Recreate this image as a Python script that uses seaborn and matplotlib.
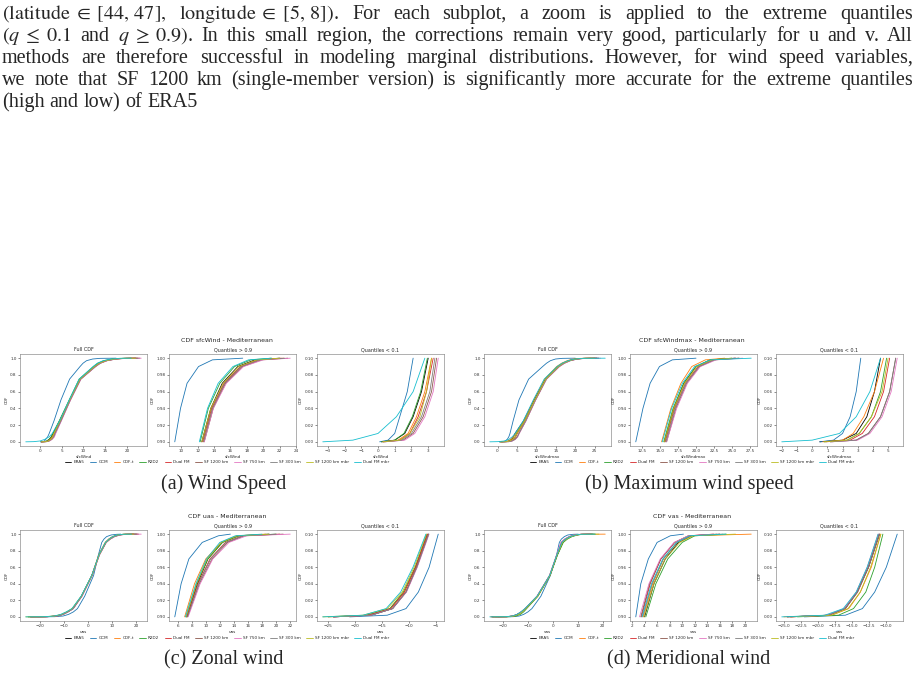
import pandas as pd
import seaborn as sns
import matplotlib.pyplot as plt
from matplotlib.lines import Line2D
from matplotlib.ticker import MultipleLocator

# methods compared in every panel
methods = ["ERA5", "GCM", "CDF-t", "R2D2", "Dual FM", "SF 1200 km", "SF 750 km",
           "SF 300 km", "SF 1200 km mbr", "Dual FM mbr"]
colors = ["black", "#1f77b4", "#ff7f0e", "#2ca02c", "#d62728", "#8c564b",
          "#e377c2", "#7f7f7f", "#bcbd22", "#17becf"]

q_levels = [0.0, 0.002, 0.01, 0.03, 0.06, 0.1, 0.25, 0.5, 0.75, 0.9, 0.94, 0.97, 0.99, 0.998, 1.0]

# values (one row per method, same order as `methods`)
sfcwind = [
    [0.2, 1.0, 1.6, 2.1, 2.6, 3.0, 4.5, 6.8, 9.2, 12.5, 13.6, 15.0, 16.9, 19.0, 22.0],
    [0.1, 0.6, 1.0, 1.3, 1.75, 2.1, 3.2, 4.8, 6.8, 9.2, 9.9, 10.7, 12.1, 13.8, 17.5],
    [0.3, 1.2, 1.8, 2.3, 2.8, 3.2, 4.6, 6.9, 9.3, 12.7, 13.8, 15.3, 17.3, 19.5, 22.5],
    [0.2, 1.0, 1.55, 2.05, 2.55, 2.95, 4.4, 6.7, 9.0, 12.3, 13.3, 14.7, 16.5, 18.5, 21.0],
    [0.3, 1.3, 1.9, 2.4, 2.9, 3.3, 4.7, 6.9, 9.3, 12.6, 13.7, 15.2, 17.2, 19.3, 22.2],
    [0.4, 1.5, 2.1, 2.7, 3.2, 3.5, 4.8, 7.0, 9.4, 12.8, 13.9, 15.4, 17.5, 19.8, 23.0],
    [0.4, 1.6, 2.2, 2.8, 3.3, 3.6, 4.9, 7.0, 9.4, 12.8, 13.9, 15.5, 17.6, 20.0, 23.3],
    [0.3, 1.4, 2.0, 2.6, 3.1, 3.4, 4.8, 6.9, 9.3, 12.7, 13.8, 15.3, 17.3, 19.5, 22.6],
    [0.3, 1.3, 1.9, 2.5, 2.9, 3.2, 4.6, 6.8, 9.2, 12.5, 13.6, 15.1, 17.0, 19.2, 22.0],
    [-3.3, -1.5, 0.0, 1.1, 2.1, 2.8, 4.5, 6.7, 9.0, 12.2, 13.2, 14.5, 16.3, 18.2, 21.0],
]
sfcwindmax = [
    [0.5, 2.0, 2.9, 3.6, 4.1, 4.5, 6.7, 9.4, 12.3, 15.6, 16.9, 18.3, 20.0, 22.0, 25.5],
    [0.5, 1.4, 2.0, 2.5, 2.9, 3.2, 4.0, 5.5, 8.0, 11.6, 12.6, 13.6, 14.9, 16.7, 20.0],
    [0.7, 2.0, 2.7, 3.4, 4.1, 4.7, 6.8, 9.3, 12.1, 15.2, 16.5, 17.9, 19.4, 21.3, 24.0],
    [0.8, 2.3, 3.1, 3.9, 4.5, 4.9, 7.0, 9.6, 12.4, 15.5, 16.8, 18.3, 20.0, 22.0, 25.0],
    [0.9, 2.5, 3.3, 4.1, 4.7, 5.1, 7.1, 9.7, 12.5, 15.7, 17.0, 18.5, 20.3, 22.3, 25.5],
    [1.2, 2.9, 3.7, 4.5, 5.1, 5.5, 7.3, 9.8, 12.6, 15.9, 17.2, 18.7, 20.5, 22.6, 26.0],
    [1.3, 3.0, 3.8, 4.6, 5.2, 5.6, 7.3, 9.8, 12.6, 15.9, 17.3, 18.8, 20.6, 22.8, 26.5],
    [1.2, 2.9, 3.7, 4.5, 5.1, 5.5, 7.2, 9.7, 12.5, 15.8, 17.1, 18.6, 20.4, 22.5, 26.0],
    [0.8, 2.3, 3.1, 3.9, 4.6, 5.0, 7.0, 9.6, 12.4, 15.6, 16.9, 18.4, 20.1, 22.2, 25.0],
    [-2.0, 0.0, 1.8, 2.9, 3.8, 4.5, 6.6, 9.2, 12.0, 15.3, 16.6, 18.1, 19.8, 22.0, 27.7],
]
uas = [
    [-24, -17, -13, -10.5, -8.5, -6.3, -2.8, 1.5, 4.5, 7.3, 8.8, 10.3, 12.3, 14.5, 19.0],
    [-21, -14, -10.5, -8.2, -6.2, -4.5, -1.5, 2.2, 4.2, 5.6, 6.5, 7.6, 9.5, 11.8, 13.5],
    [-25, -17.5, -13.5, -10.8, -8.7, -6.5, -2.8, 1.4, 4.3, 7.0, 8.4, 10.0, 12.2, 14.5, 18.5],
    [-25, -18, -13.5, -11, -8.8, -6.6, -2.9, 1.5, 4.5, 7.2, 8.7, 10.3, 12.4, 14.8, 20.0],
    [-24, -17.5, -13.3, -10.8, -8.7, -6.5, -2.8, 1.5, 4.5, 7.3, 8.9, 10.6, 12.8, 15.2, 20.5],
    [-24, -17, -13, -10.5, -8.5, -6.3, -2.7, 1.6, 4.6, 7.4, 9.1, 10.9, 13.1, 15.5, 21.0],
    [-24, -17, -13, -10.4, -8.4, -6.2, -2.6, 1.6, 4.7, 7.5, 9.2, 11.0, 13.3, 15.8, 22.0],
    [-24, -17, -13, -10.5, -8.5, -6.3, -2.7, 1.5, 4.6, 7.4, 9.0, 10.7, 12.9, 15.3, 20.0],
    [-26, -18.5, -14, -11.2, -9.0, -6.7, -2.9, 1.5, 4.5, 7.2, 8.7, 10.2, 12.2, 14.4, 19.0],
    [-26, -18.5, -14.2, -11.5, -9.2, -6.8, -3.0, 1.4, 4.4, 7.1, 8.6, 10.1, 12.0, 14.2, 18.0],
]
vas = [
    [-24.5, -18.5, -16.0, -14.3, -12.6, -11.0, -6.2, -1.2, 1.8, 4.0, 5.5, 7.3, 9.4, 11.5, 16.0],
    [-22, -16, -13.5, -11.7, -10.0, -8.4, -4.8, -1.0, 1.5, 2.6, 3.4, 4.6, 6.0, 8.1, 10.2],
    [-25, -18, -15.5, -13.8, -12.2, -10.8, -6.0, -1.2, 1.7, 3.8, 5.3, 7.0, 9.2, 11.5, 21.0],
    [-23, -17, -14.8, -13.0, -11.7, -10.5, -6.0, -1.1, 1.9, 4.2, 5.8, 7.7, 10.0, 12.0, 17.0],
    [-24, -18.5, -16.0, -14.2, -12.6, -11.0, -6.3, -1.3, 1.6, 3.5, 4.9, 6.6, 8.8, 11.0, 15.0],
    [-24, -18.5, -16.1, -14.3, -12.7, -11.1, -6.3, -1.3, 1.6, 3.4, 4.8, 6.6, 8.8, 11.0, 15.5],
    [-24, -18.7, -16.2, -14.4, -12.8, -11.2, -6.4, -1.4, 1.5, 3.2, 4.7, 6.5, 8.7, 11.0, 15.0],
    [-24.5, -18.5, -16.0, -14.2, -12.6, -11.0, -6.2, -1.2, 1.7, 3.7, 5.2, 7.0, 9.2, 11.3, 16.5],
    [-24, -18, -15.6, -13.8, -12.3, -10.8, -6.1, -1.2, 1.7, 3.9, 5.5, 7.3, 9.6, 11.8, 18.5],
    [-25.3, -19, -16.3, -14.4, -12.8, -11.2, -6.3, -1.3, 1.6, 3.6, 5.1, 6.9, 9.1, 11.2, 17.0],
]

variables = ["sfcWind", "sfcWindmax", "uas", "vas"]
var_values = [sfcwind, sfcwindmax, uas, vas]
captions = ["(a) Wind Speed", "(b) Maximum wind speed", "(c) Zonal wind", "(d) Meridional wind"]
panel_titles = ["Full CDF", "Quantiles > 0.9", "Quantiles < 0.1"]
# x tick spacing for [full, upper, lower] panels of each variable
x_steps = [[5, 2, 1], [5, 2.5, 1], [10, 2, 5], [10, 2, 2.5]]
y_steps = [0.2, 0.02, 0.02]

paragraph = [
    (["$(\\mathrm{latitude}\\;\\in\\;[44,\\,47],$", "$\\mathrm{longitude}\\;\\in\\;[5,\\,8])$.", "For",
      "each", "subplot,", "a", "zoom", "is", "applied", "to", "the", "extreme", "quantiles"], True),
    (["$(q\\;\\leq\\;0.1$", "and", "$q\\;\\geq\\;0.9)$.", "In", "this", "small", "region,", "the",
      "corrections", "remain", "very", "good,", "particularly", "for", "u", "and", "v.", "All"], True),
    ("methods are therefore successful in modeling marginal distributions. However, for wind speed variables,".split(), True),
    ("we note that SF 1200 km (single-member version) is significantly more accurate for the extreme quantiles".split(), True),
    ("(high and low) of ERA5".split(), False),
]

W, H = 915, 680
sns.set_theme(style="ticks")
plt.rcParams.update({
    "font.family": ["DejaVu Sans"],
    "mathtext.fontset": "stix",
    "axes.edgecolor": "0.45",
    "axes.linewidth": 0.4,
    "xtick.labelsize": 3,
    "ytick.labelsize": 3,
    "xtick.major.size": 1.5,
    "ytick.major.size": 1.5,
    "xtick.major.width": 0.4,
    "ytick.major.width": 0.4,
    "xtick.major.pad": 1,
    "ytick.major.pad": 1,
    "xtick.color": "0.2",
    "ytick.color": "0.2",
    "axes.labelsize": 3,
    "axes.labelpad": 1,
    "axes.titlesize": 3.5,
    "axes.titlepad": 2,
})
serif = ["Liberation Serif", "DejaVu Serif"]

fig = plt.figure(figsize=(W / 100, H / 100), dpi=100)


def px_axes(x0, y0, x1, y1):
    return fig.add_axes([x0 / W, 1 - y1 / H, (x1 - x0) / W, (y1 - y0) / H])


col_x = [[(20, 147), (169, 296), (317, 444)], [(484, 611), (630, 757), (776, 903)]]
col_mid = [227, 692]
row_y = [(354, 446), (530, 621)]
row_sup = [341, 517]
row_leg = [462, 638]
row_cap = [484, 660]

for k, (var, vals) in enumerate(zip(variables, var_values)):
    r, c = divmod(k, 2)
    rows = [(m, x, q) for m, xs in zip(methods, vals) for q, x in zip(q_levels, xs)]
    df = pd.DataFrame(rows, columns=["method", "value", "CDF"])
    subsets = [df, df[df["CDF"] >= 0.9], df[df["CDF"] <= 0.1]]
    for j, sub in enumerate(subsets):
        x0, x1 = col_x[c][j]
        ax = px_axes(x0, row_y[r][0], x1, row_y[r][1])
        sns.lineplot(data=sub, x="value", y="CDF", hue="method", hue_order=methods,
                     palette=colors, estimator=None, sort=False, linewidth=0.6,
                     legend=False, ax=ax)
        ax.set_title(panel_titles[j])
        ax.set_xlabel(var)
        ax.set_ylabel("CDF")
        ax.xaxis.set_major_locator(MultipleLocator(x_steps[k][j]))
        ax.yaxis.set_major_locator(MultipleLocator(y_steps[j]))
        for s in ax.spines.values():
            s.set_visible(True)
    fig.text(col_mid[c] / W, 1 - row_sup[r] / H, f"CDF {var} - Mediterranean",
             ha="center", va="center", fontsize=4.5)
    handles = [Line2D([], [], color=col, lw=0.6) for col in colors]
    fig.legend(handles, methods, loc="center", bbox_to_anchor=(col_mid[c] / W, 1 - row_leg[r] / H),
               ncol=10, fontsize=3, frameon=False, handlelength=1.6, handletextpad=0.5,
               columnspacing=1.3)
    fig.text((col_mid[c] - 3) / W, 1 - row_cap[r] / H, captions[k], ha="center", va="center",
             fontsize=14.5, family=serif)

# justified paragraph at the top of the page
fig.canvas.draw()
renderer = fig.canvas.get_renderer()
for i, (words, justify) in enumerate(paragraph):
    y = 19 + 22 * i
    texts = [fig.text(0, 1 - y / H, w, fontsize=14.5, family=serif, va="baseline") for w in words]
    widths = [t.get_window_extent(renderer).width for t in texts]
    gap = (913 - 2 - sum(widths)) / (len(words) - 1) if justify else 5
    x = 2
    for t, w in zip(texts, widths):
        t.set_x(x / W)
        x += w + gap

fig.savefig("out.png", dpi=100, facecolor="white")
